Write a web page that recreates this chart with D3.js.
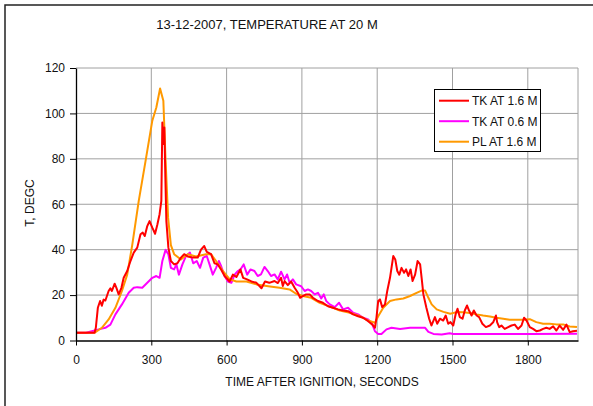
<!DOCTYPE html>
<html><head><meta charset="utf-8">
<script src="https://cdn.jsdelivr.net/npm/d3@7"></script>
<style>body{margin:0;background:#fff}svg{display:block;font-family:"Liberation Sans",Arial,sans-serif}</style>
</head><body><svg id="c" width="593" height="406"></svg>
<script>
const title = "13-12-2007, TEMPERATURE AT 20 M";
const xTitle = "TIME AFTER IGNITION, SECONDS";
const yTitle = "T, DEGC";
const xTicks = [0, 300, 600, 900, 1200, 1500, 1800];
const yTicks = [0, 20, 40, 60, 80, 100, 120];
const seriesNames = ["TK AT 1.6 M", "TK AT 0.6 M", "PL AT 1.6 M"];
const seriesColors = ["#ff0000", "#ff00ff", "#ff9900"];

const tkHighT = [0,74,79,87,96,103,110,117,130,137,143,154,161,170,181,190,204,217,230,244,257,266,274,284,293,304,315,324,333,340,344,349,352,356,360,368,378,391,404,418,431,445,465,485,498,511,521,538,552,565,578,592,612,625,639,655,666,679,699,719,739,753,770,791,804,817,824,831,844,857,871,884,893,904,917,931,944,964,984,1004,1024,1044,1064,1084,1104,1124,1144,1164,1181,1191,1197,1204,1211,1220,1231,1240,1251,1257,1264,1272,1280,1288,1297,1307,1315,1324,1333,1341,1351,1361,1371,1377,1384,1396,1407,1416,1430,1439,1450,1463,1473,1483,1492,1503,1513,1520,1529,1540,1549,1558,1566,1576,1585,1596,1606,1619,1633,1649,1662,1673,1678,1686,1695,1708,1722,1735,1748,1761,1775,1785,1795,1808,1821,1834,1848,1861,1874,1887,1901,1914,1927,1941,1954,1967,1980,1996];
const tkHighV = [3.4,3.4,5.6,14.4,17.4,15.3,18,17.6,21.8,23,21.8,25,23.2,20.3,23.2,27.6,30.6,35,38.7,40.9,46.8,47.5,46,50.4,52.6,49.7,47,51,55.6,61.5,96,86.5,93.8,71.8,52.6,41,35,33.5,34,36.5,38,37,36.5,36.5,40,41.6,39,38,34,33.5,31.3,28.4,26,29,28,31.3,27.6,27,26,25.4,23,26,25.4,26.2,25.3,27.6,24,26.2,24.4,26,23.2,21,18.8,19.6,20.3,20.3,18.8,17.4,16.6,15.1,14.4,13.7,13.2,12.9,11.5,10.7,10,8.5,7,5.6,10,17.4,18.1,14.7,15.9,21.8,27.6,32,37.2,35.7,30.6,29,32,29.8,31.3,28.4,31.3,26.2,29,35,33.5,27.6,20.3,14.4,9.6,6.6,10.3,7.4,9.6,8.8,11,7.4,8.1,6.6,11.8,14,10.3,9.6,13.2,15.4,13.2,11,13.2,11,10.3,7.4,5.9,6.6,8,11,8,5.9,6.6,5.1,5.9,6.6,7,5.1,6.6,10,8.8,5.9,5.1,4.1,4.4,5.1,5.6,5.1,6.2,4.4,6.6,4.7,7,3.7,4.1,4.3];

const tkLowT = [0,40,63,90,117,137,157,183,210,230,244,264,284,304,320,333,344,357,368,378,391,400,410,424,438,454,467,481,494,507,521,532,545,558,569,578,592,605,619,632,645,655,668,682,695,711,724,737,751,764,777,791,804,817,831,841,851,864,877,897,911,924,937,951,964,977,987,997,1011,1031,1048,1064,1084,1104,1124,1144,1164,1181,1191,1204,1217,1237,1257,1291,1331,1391,1404,1424,1457,1489,1503,1606,1675,1808,1996];
const tkLowV = [3.4,3.4,4.1,4.9,5.6,7,11.5,15.9,21,23.2,23.5,23.2,25.4,27.6,28.4,27.6,35,39.9,38,32,31.3,33.5,29,33.5,37.2,38.7,34,35,32,36.5,37.2,33.5,29,32,35,32.8,28.4,26,25.4,29,30.6,31.3,33.5,29,31.3,30.6,28.4,29.1,32.4,30.6,28.4,29.1,26.9,30.3,26.9,29.1,25.4,26.9,24.7,23.9,21.8,22.5,21.8,20.3,21,18.5,20.3,17.4,15.9,14.7,16.6,13.7,14.4,12.2,11.5,10,9.3,7,4.1,2.9,2.9,4.9,5.6,5.1,5.6,5.6,3.8,2.9,2.6,3.2,2.9,2.9,2.9,2.9,3.0];

const plT = [0,76,103,130,157,183,204,224,250,277,304,320,335,348,357,367,378,391,418,445,478,518,538,558,585,612,639,679,719,773,811,851,877,904,937,971,1011,1051,1091,1131,1164,1191,1204,1224,1251,1277,1304,1331,1357,1377,1391,1404,1417,1437,1464,1491,1516,1542,1569,1596,1622,1649,1675,1702,1728,1755,1781,1808,1834,1861,1887,1914,1941,1967,1996];
const plV = [3.4,3.5,5.6,9.3,14.4,21.8,29,42,61.5,79,96.8,102.6,111,105.6,79,54,42,38,35.7,38,37,38,38,35,30.6,27,26,26,24.7,23.8,23.2,22.5,20.6,19.6,18.8,16.6,14.9,13.2,12.2,10.7,8.8,7.8,10.7,14.4,17.4,18.1,18.5,19.6,21,22,22,18.8,15.9,13.7,12.6,11.8,12.5,12.4,12.1,11.5,11,10.6,10,9.6,9.1,9.1,9.1,9.4,8.1,7.4,7.4,7.1,7.1,6.2,5.9];

const svg = d3.select("#c");
const x = d3.scaleLinear().domain([0, 2000]).range([76, 578]);
const y = d3.scaleLinear().domain([0, 120]).range([340.5, 68]);
const fontFam = "Liberation Sans, Arial, sans-serif";

// outer chart frame (cut off at right/bottom)
svg.append("rect").attr("x", 5).attr("y", 5).attr("width", 620).attr("height", 440)
  .attr("fill", "#fff").attr("stroke", "#222").attr("stroke-width", 1.5);

// gridlines
svg.append("g").selectAll("line").data(yTicks.filter(d => d > 0)).join("line")
  .attr("x1", x(0)).attr("x2", x(2000)).attr("y1", d => y(d)).attr("y2", d => y(d))
  .attr("stroke", "#a0a0a0").attr("stroke-width", 1);
svg.append("g").selectAll("line").data(xTicks.filter(d => d > 0).concat([2000])).join("line")
  .attr("x1", d => x(d)).attr("x2", d => x(d)).attr("y1", y(0)).attr("y2", y(120))
  .attr("stroke", "#a0a0a0").attr("stroke-width", 1);

// series
const series = [
  {t: tkHighT, v: tkHighV},
  {t: tkLowT, v: tkLowV},
  {t: plT, v: plV}
];
const line = d3.line().x(d => x(d[0])).y(d => y(d[1]));
[1, 2, 0].forEach(i => {
  const s = series[i];
  svg.append("path").datum(s.t.map((t, k) => [t, s.v[k]]))
    .attr("d", line).attr("fill", "none").attr("stroke", seriesColors[i])
    .attr("stroke-width", 2).attr("stroke-linejoin", "round");
});

// axes
const xAxis = d3.axisBottom(x).tickValues(xTicks).tickFormat(d3.format("d"))
  .tickSize(5).tickSizeOuter(0).tickPadding(10);
const gx = svg.append("g").attr("transform", `translate(0,${y(0)})`).call(xAxis);
gx.select(".domain").attr("stroke", "#000").attr("stroke-width", 1.3);
gx.selectAll(".tick line").attr("stroke", "#000");
gx.selectAll("text").attr("font-size", 12).attr("fill", "#111").attr("font-family", fontFam);

const yAxis = d3.axisLeft(y).tickValues(yTicks).tickFormat(d3.format("d"))
  .tickSize(6).tickSizeOuter(0).tickPadding(5);
const gy = svg.append("g").attr("transform", `translate(${x(0)},0)`).call(yAxis);
gy.select(".domain").attr("stroke", "#000").attr("stroke-width", 1.3);
gy.selectAll(".tick line").attr("stroke", "#000");
gy.selectAll("text").attr("font-size", 12).attr("fill", "#111").attr("font-family", fontFam);

// titles
svg.append("text").attr("x", 267).attr("y", 29).attr("text-anchor", "middle")
  .attr("font-size", 13).attr("fill", "#111").text(title);
svg.append("text").attr("x", 322).attr("y", 386).attr("text-anchor", "middle")
  .attr("font-size", 12).attr("fill", "#111").text(xTitle);
svg.append("text").attr("transform", "translate(34,203) rotate(-90)").attr("text-anchor", "middle")
  .attr("font-size", 12).attr("fill", "#111").text(yTitle);

// legend
const lg = svg.append("g");
lg.append("rect").attr("x", 434.5).attr("y", 89.5).attr("width", 106).attr("height", 62)
  .attr("fill", "#fff").attr("stroke", "#000").attr("stroke-width", 1);
seriesNames.forEach((n, i) => {
  const yy = 100.7 + i * 20.5;
  lg.append("line").attr("x1", 439).attr("x2", 469).attr("y1", yy).attr("y2", yy)
    .attr("stroke", seriesColors[i]).attr("stroke-width", 2);
  lg.append("text").attr("x", 472).attr("y", yy + 4.3).attr("font-size", 12).attr("fill", "#111").text(n);
});
</script></body></html>
